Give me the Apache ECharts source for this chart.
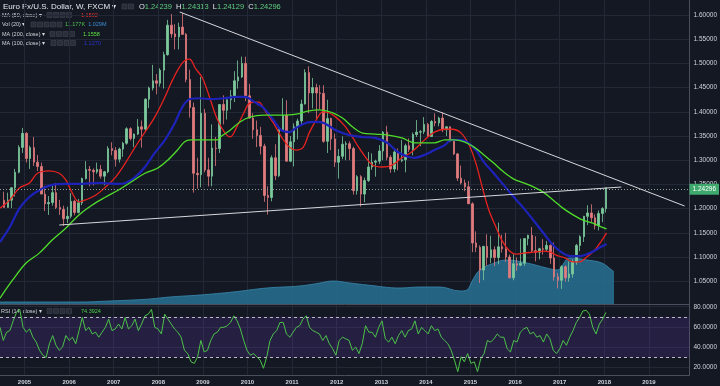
<!DOCTYPE html>
<html>
<head>
<meta charset="utf-8">
<script src="https://cdn.jsdelivr.net/npm/echarts@6.0.0/dist/echarts.min.js"></script>
<style>
html,body{margin:0;padding:0;background:#141823;overflow:hidden}
#chart{width:720px;height:386px}
</style>
</head>
<body>
<div id="chart"></div>
<script>
// ================= DATA =================
// Monthly OHLC of EUR/USD (FXCM), first candle = July 2004
const firstMonth = { year: 2004, month: 7 };
const candleOpen = [
 1.2170,1.2025,1.2175,1.2430,1.2750,1.3265,
 1.3555,1.3035,1.3260,1.2960,1.2870,1.2300,1.2100,1.2125,1.2330,1.2025,1.1985,1.1790,
 1.1840,1.2150,1.1920,1.2120,1.2620,1.2810,1.2790,1.2760,1.2810,1.2670,1.2760,1.3240,
 1.3200,1.3020,1.3230,1.3350,1.3650,1.3450,1.3540,1.3690,1.3640,1.4260,1.4490,1.4640,
 1.4590,1.4860,1.5180,1.5790,1.5610,1.5550,1.5750,1.5600,1.4670,1.4090,1.2730,1.2700,
 1.3970,1.2800,1.2670,1.3250,1.3240,1.4150,1.4030,1.4250,1.4330,1.4640,1.4720,1.5000,
 1.4330,1.3870,1.3630,1.3510,1.3290,1.2270,1.2230,1.3050,1.2680,1.3630,1.3930,1.2980,
 1.3380,1.3690,1.3810,1.4160,1.4810,1.4390,1.4500,1.4390,1.4380,1.3390,1.3860,1.3440,
 1.2960,1.3080,1.3330,1.3340,1.3240,1.2370,1.2660,1.2300,1.2580,1.2860,1.2960,1.2980,
 1.3190,1.3580,1.3060,1.2820,1.3170,1.2990,1.3010,1.3300,1.3220,1.3530,1.3580,1.3590,
 1.3740,1.3490,1.3800,1.3770,1.3870,1.3630,1.3690,1.3390,1.3130,1.2630,1.2530,1.2450,
 1.2100,1.1290,1.1200,1.0730,1.1220,1.0990,1.1150,1.0990,1.1210,1.1170,1.1000,1.0570,
 1.0860,1.0830,1.0870,1.1380,1.1450,1.1130,1.1100,1.1170,1.1160,1.1240,1.0980,1.0590,
 1.0520,1.0800,1.0570,1.0650,1.0900,1.1240,1.1420,1.1840,1.1910,1.1810,1.1650,1.1900,
 1.2000
];
const candleHigh = [
 1.2350,1.2330,1.2440,1.2820,1.3310,1.3667,
 1.3580,1.3300,1.3480,1.3110,1.2950,1.2470,1.2260,1.2480,1.2530,1.2180,1.2060,1.2040,
 1.2320,1.2180,1.2200,1.2640,1.2980,1.2880,1.2830,1.2950,1.2900,1.2780,1.3290,1.3370,
 1.3270,1.3260,1.3380,1.3680,1.3680,1.3550,1.3850,1.3820,1.4280,1.4520,1.4970,1.4780,
 1.4900,1.5240,1.5900,1.6020,1.5810,1.5840,1.6038,1.5630,1.4870,1.4190,1.3050,1.4720,
 1.4060,1.3050,1.3740,1.3480,1.4150,1.4340,1.4310,1.4450,1.4840,1.5060,1.5140,1.5140,
 1.4580,1.3970,1.3820,1.3690,1.3340,1.2460,1.3100,1.3330,1.3690,1.4280,1.4240,1.3500,
 1.3760,1.3860,1.4250,1.4880,1.4940,1.4700,1.4580,1.4550,1.4550,1.4250,1.3880,1.3550,
 1.3230,1.3490,1.3390,1.3390,1.3280,1.2690,1.2690,1.2640,1.3170,1.3140,1.3010,1.3310,
 1.3600,1.3710,1.3100,1.3240,1.3240,1.3420,1.3340,1.3450,1.3570,1.3830,1.3620,1.3890,
 1.3770,1.3830,1.3970,1.3900,1.3990,1.3700,1.3700,1.3440,1.3150,1.2890,1.2600,1.2570,
 1.2130,1.1530,1.1240,1.1220,1.1470,1.1440,1.1220,1.1710,1.1460,1.1500,1.1050,1.1060,
 1.0990,1.1380,1.1390,1.1460,1.1620,1.1430,1.1190,1.1370,1.1330,1.1260,1.1300,1.0670,
 1.0830,1.0830,1.0910,1.0950,1.1270,1.1450,1.1850,1.2070,1.2090,1.1880,1.1960,1.2030,
 1.2431
];
const candleLow = [
 1.2020,1.2020,1.2010,1.2250,1.2730,1.3150,
 1.2950,1.2820,1.2880,1.2780,1.2300,1.1950,1.1870,1.2060,1.1990,1.1870,1.1640,1.1700,
 1.1800,1.1860,1.1900,1.2070,1.2600,1.2460,1.2480,1.2720,1.2620,1.2480,1.2730,1.3100,
 1.2870,1.2950,1.3070,1.3320,1.3410,1.3270,1.3520,1.3260,1.3590,1.4080,1.4440,1.4360,
 1.4520,1.4480,1.5160,1.5530,1.5290,1.5290,1.5590,1.4610,1.3880,1.2330,1.2410,1.2440,
 1.2750,1.2460,1.2460,1.2880,1.3150,1.3740,1.3840,1.4050,1.4200,1.4480,1.4700,1.4220,
 1.3860,1.3440,1.3270,1.3120,1.2140,1.1876,1.2150,1.2590,1.2650,1.3600,1.2970,1.2960,
 1.2870,1.3430,1.3740,1.4150,1.3970,1.4070,1.3840,1.4050,1.3360,1.3150,1.3210,1.2860,
 1.2620,1.3020,1.3000,1.3000,1.2290,1.2290,1.2042,1.2130,1.2550,1.2800,1.2660,1.2920,
 1.3000,1.3000,1.2740,1.2750,1.2790,1.2960,1.2750,1.3170,1.3100,1.3480,1.3290,1.3540,
 1.3480,1.3480,1.3700,1.3700,1.3580,1.3500,1.3380,1.3110,1.2570,1.2500,1.2360,1.2100,
 1.1100,1.1100,1.0462,1.0520,1.0820,1.0870,1.0810,1.0850,1.1090,1.0900,1.0560,1.0520,
 1.0710,1.0810,1.0820,1.1240,1.1100,1.0910,1.0950,1.1050,1.1120,1.0860,1.0510,1.0350,
 1.0340,1.0490,1.0490,1.0570,1.0840,1.1120,1.1310,1.1660,1.1720,1.1570,1.1550,1.1720,
 1.1920
];
const candleClose = [
 1.2025,1.2175,1.2430,1.2750,1.3265,1.3555,
 1.3035,1.3260,1.2960,1.2870,1.2300,1.2100,1.2125,1.2330,1.2025,1.1985,1.1790,1.1840,
 1.2150,1.1920,1.2120,1.2620,1.2810,1.2790,1.2760,1.2810,1.2670,1.2760,1.3240,1.3200,
 1.3020,1.3230,1.3350,1.3650,1.3450,1.3540,1.3690,1.3640,1.4260,1.4490,1.4640,1.4590,
 1.4860,1.5180,1.5790,1.5610,1.5550,1.5750,1.5600,1.4670,1.4090,1.2730,1.2700,1.3970,
 1.2800,1.2670,1.3250,1.3240,1.4150,1.4030,1.4250,1.4330,1.4640,1.4720,1.5000,1.4330,
 1.3870,1.3630,1.3510,1.3290,1.2270,1.2230,1.3050,1.2680,1.3630,1.3930,1.2980,1.3380,
 1.3690,1.3810,1.4160,1.4810,1.4390,1.4500,1.4390,1.4380,1.3390,1.3860,1.3440,1.2960,
 1.3080,1.3330,1.3340,1.3240,1.2370,1.2660,1.2300,1.2580,1.2860,1.2960,1.2980,1.3190,
 1.3580,1.3060,1.2820,1.3170,1.2990,1.3010,1.3300,1.3220,1.3530,1.3580,1.3590,1.3740,
 1.3490,1.3800,1.3770,1.3870,1.3630,1.3690,1.3390,1.3130,1.2630,1.2530,1.2450,1.2100,
 1.1290,1.1200,1.0730,1.1220,1.0990,1.1150,1.0990,1.1210,1.1170,1.1000,1.0570,1.0860,
 1.0830,1.0870,1.1380,1.1450,1.1130,1.1100,1.1170,1.1160,1.1240,1.0980,1.0590,1.0520,
 1.0800,1.0570,1.0650,1.0900,1.1240,1.1420,1.1840,1.1910,1.1810,1.1650,1.1900,1.2000,
 1.2430
];
const lastPrice = 1.24296;

// Moving averages: [decimal year, price]
const ma50 = [[2004.45,1.201],[2004.67,1.218],[2004.89,1.243],[2005.11,1.253],[2005.29,1.273],[2005.55,1.278],[2005.78,1.273],[2005.93,1.259],[2006.06,1.234],[2006.22,1.214],[2006.37,1.218],[2006.60,1.228],[2006.82,1.245],[2007.04,1.265],[2007.26,1.294],[2007.48,1.327],[2007.70,1.358],[2007.92,1.389],[2008.15,1.431],[2008.32,1.466],[2008.54,1.501],[2008.70,1.509],[2008.83,1.490],[2008.99,1.470],[2009.17,1.424],[2009.32,1.385],[2009.48,1.358],[2009.61,1.348],[2009.76,1.369],[2009.92,1.398],[2010.05,1.418],[2010.25,1.420],[2010.38,1.404],[2010.58,1.377],[2010.76,1.348],[2010.94,1.327],[2011.09,1.321],[2011.25,1.327],[2011.38,1.356],[2011.54,1.383],[2011.69,1.400],[2011.82,1.398],[2011.98,1.389],[2012.16,1.373],[2012.35,1.348],[2012.49,1.327],[2012.64,1.307],[2012.80,1.290],[2013.02,1.286],[2013.24,1.290],[2013.46,1.305],[2013.68,1.317],[2013.97,1.342],[2014.19,1.358],[2014.42,1.364],[2014.59,1.364],[2014.79,1.356],[2014.97,1.331],[2015.12,1.294],[2015.26,1.245],[2015.41,1.197],[2015.57,1.162],[2015.70,1.135],[2015.86,1.114],[2016.01,1.106],[2016.19,1.108],[2016.41,1.110],[2016.63,1.112],[2016.79,1.110],[2016.92,1.104],[2017.12,1.098],[2017.30,1.090],[2017.45,1.090],[2017.58,1.098],[2017.78,1.114],[2017.92,1.131],[2018.05,1.150]];
const ma100 = [[2004.45,1.131],[2004.67,1.162],[2004.89,1.201],[2005.11,1.224],[2005.33,1.238],[2005.62,1.249],[2005.93,1.251],[2006.28,1.251],[2006.66,1.253],[2007.04,1.251],[2007.26,1.253],[2007.48,1.265],[2007.70,1.286],[2007.92,1.315],[2008.15,1.342],[2008.37,1.377],[2008.54,1.410],[2008.70,1.426],[2008.94,1.428],[2009.17,1.426],[2009.48,1.428],[2009.76,1.431],[2009.94,1.431],[2010.16,1.420],[2010.36,1.408],[2010.58,1.383],[2010.76,1.362],[2010.94,1.358],[2011.09,1.367],[2011.31,1.377],[2011.54,1.379],[2011.71,1.377],[2011.98,1.362],[2012.27,1.352],[2012.58,1.348],[2012.86,1.346],[2013.13,1.336],[2013.37,1.317],[2013.60,1.307],[2013.75,1.305],[2013.97,1.311],[2014.19,1.321],[2014.42,1.331],[2014.57,1.342],[2014.75,1.342],[2014.92,1.338],[2015.12,1.321],[2015.30,1.296],[2015.52,1.273],[2015.74,1.249],[2015.97,1.224],[2016.19,1.201],[2016.41,1.176],[2016.63,1.150],[2016.85,1.125],[2017.07,1.108],[2017.23,1.102],[2017.45,1.102],[2017.67,1.108],[2017.89,1.119],[2018.05,1.127]];
const ma200 = [[2004.45,1.015],[2004.73,1.052],[2005.04,1.088],[2005.33,1.108],[2005.62,1.135],[2005.93,1.160],[2006.22,1.187],[2006.51,1.207],[2006.82,1.224],[2007.10,1.238],[2007.39,1.255],[2007.70,1.273],[2007.99,1.284],[2008.21,1.300],[2008.43,1.321],[2008.59,1.338],[2008.72,1.342],[2009.03,1.342],[2009.32,1.342],[2009.39,1.348],[2009.61,1.362],[2009.83,1.379],[2010.05,1.389],[2010.36,1.393],[2010.72,1.393],[2011.09,1.395],[2011.38,1.402],[2011.60,1.404],[2011.91,1.398],[2012.13,1.387],[2012.35,1.369],[2012.58,1.356],[2012.86,1.354],[2013.15,1.352],[2013.46,1.346],[2013.75,1.336],[2014.19,1.336],[2014.42,1.342],[2014.64,1.342],[2014.86,1.338],[2015.08,1.327],[2015.30,1.311],[2015.52,1.294],[2015.74,1.276],[2015.97,1.261],[2016.19,1.253],[2016.41,1.245],[2016.63,1.234],[2016.85,1.218],[2017.07,1.201],[2017.30,1.187],[2017.52,1.176],[2017.74,1.170],[2017.89,1.164],[2018.05,1.158]];

// Volume (20) area, in thousands: [decimal year, value]
const volume = [[2004.45,64],[2005.33,64],[2006.22,64],[2006.88,96],[2007.39,128],[2007.77,160],[2008.21,224],[2008.88,288],[2009.61,384],[2010.36,512],[2011.09,576],[2011.54,672],[2011.82,736],[2012.20,672],[2012.58,608],[2013.31,512],[2013.75,544],[2014.19,544],[2014.64,416],[2014.79,448],[2014.92,768],[2015.08,1088],[2015.46,1344],[2015.68,1408],[2016.12,1312],[2016.56,1152],[2016.79,1088],[2017.07,1472],[2017.45,1408],[2017.78,1312],[2018.00,1088],[2018.05,1029]];

// RSI(14) read at a regular step along the time axis
const rsiStart = 2004.45;
const rsiStep = 0.07384;
const rsiValues = [
 59.7,46.8,54.9,56.5,66.1,74.2,77.4,59.7,54.9,58.1,
 50,45.2,37.1,32.3,30,43.6,51.6,42,37.1,40.3,
 51.6,46.8,50,43.6,56.5,69.4,56.5,59.7,53.2,54.9,
 50,54.9,59.7,67.8,56.5,58.1,62.9,58.1,69.4,58.1,
 61.3,67.8,56.5,62.9,71,72.6,77.4,59.7,58.1,53.2,
 72.6,67.8,62.9,58.1,54.9,50,37.1,33.9,25.8,24.2,
 30.7,46.8,35.5,37.1,46.8,53.2,54.9,59.7,59.7,61.3,
 64.5,71,66.1,58.1,46.8,37.1,32.3,33.9,30.7,27.4,
 19.4,30.7,46.8,53.2,56.5,64.5,64.5,53.2,50,54.9,
 59.7,61.3,67.8,71,59.7,56.5,54.9,53.2,46.8,51.6,
 43.6,38.7,32.3,46.8,50,48.4,46.8,37.1,
 40.3,33.9,43.6,61.3,54.9,54.9,50,59.7,66.1,48.4,
 45.2,50,43.6,51.6,56.5,50,56.5,58.1,66.1,53.2,
 59.7,56.5,53.2,61.3,56.5,58.1,50,46.8,43.6,37.1,
 27.4,16.1,30.7,25.8,33.9,24.2,25.8,16.1,29,33.9,
 46.8,45.2,48.4,53.2,50,50,38.7,35.5,46.8,45.2,
 54.9,58.1,59.7,53.2,54.9,50,51.6,45.2,53.2,48.4,
 37.1,33.9,38.7,46.8,42,50,56.5,64.5,69.4,75.8,
 76.5,72.6,59.7,53.2,62.9,67.8,74.39
];

// Trend lines drawn on the chart: [decimal year, price]
const trendDown = [[2008.48,1.6062],[2019.80,1.2054]];
const trendUp = [[2005.78,1.1661],[2018.38,1.2446]];

// Axes
const yearTicks = [2005,2006,2007,2008,2009,2010,2011,2012,2013,2014,2015,2016,2017,2018,2019];
const priceTicks = [1.05,1.10,1.15,1.20,1.25,1.30,1.35,1.40,1.45,1.50,1.55,1.60];
const rsiTicks = [20,40,60,80];

// ================= BUILD =================
const candles = candleOpen.map((o, i) => {
  const t = firstMonth.year + (firstMonth.month - 1 + i + 0.5) / 12;
  return [t, o, candleClose[i], candleLow[i], candleHigh[i]];
});
const rsiData = rsiValues.map((v, i) => [rsiStart + i * rsiStep, v]);

const BG = '#141823';
const GRID = '#232836';
const AXIS = '#4a4f5c';
const TXT = '#cfd2d9';
const UP = '#7cc99c';
const DOWN = '#e07b7e';
const FONT = 'Liberation Sans, Arial, sans-serif';
const xMin = 2004.45, xMax = 2019.91;

function xAx(gridIndex, showLabels) {
  return {
    type: 'value', gridIndex, min: xMin, max: xMax,
    axisLine: { show: gridIndex !== 1, lineStyle: { color: AXIS, width: 1 } },
    axisTick: { show: false, customValues: yearTicks },
    axisLabel: { show: showLabels, customValues: yearTicks, formatter: v => String(Math.round(v)),
      color: TXT, fontSize: 6, fontWeight: 'bold', fontFamily: FONT, margin: 4 },
    splitLine: { show: gridIndex !== 1, lineStyle: { color: GRID, width: 1 } }
  };
}

const legendText = (x, y, rich, text) => ({
  type: 'text', x, y, silent: true,
  style: { text, rich, fontFamily: FONT, fontSize: 5.5, fill: TXT, verticalAlign: 'middle' }
});
function boxes(x0, y, n) {
  const out = [];
  for (let i = 0; i < n; i++) {
    out.push({ type: 'rect', silent: true, shape: { x: x0 + i * 6.5, y: y - 2.5, width: 5, height: 5 },
      style: { fill: '#2a2e3a', stroke: '#454a57', lineWidth: 0.5 } });
  }
  return out;
}

const chart = echarts.init(document.getElementById('chart'), null, { renderer: 'canvas' });
chart.setOption({
  backgroundColor: BG,
  animation: false,
  grid: [
    { left: 0, right: 22, top: 0, height: 304 },
    { left: 0, right: 22, top: 204, height: 100 },
    { left: 0, right: 22, top: 304, height: 71 }
  ],
  xAxis: [xAx(0, false), Object.assign(xAx(1, false), { show: false }), xAx(2, true)],
  yAxis: [
    { type: 'value', gridIndex: 0, position: 'right', min: 1.0029, max: 1.631,
      axisLine: { show: true, lineStyle: { color: AXIS } },
      axisTick: { show: false, customValues: priceTicks },
      axisLabel: { customValues: priceTicks, formatter: v => v.toFixed(5), color: TXT, fontSize: 6.5, fontFamily: FONT, margin: 4 },
      splitLine: { show: true, lineStyle: { color: GRID } } },
    { type: 'value', gridIndex: 1, min: 0, max: 3200, show: false, splitLine: { show: false } },
    { type: 'value', gridIndex: 2, position: 'right', min: 12.8, max: 82.66,
      axisLine: { show: true, lineStyle: { color: AXIS } },
      axisTick: { show: false, customValues: rsiTicks },
      axisLabel: { customValues: rsiTicks, formatter: v => v.toFixed(4), color: TXT, fontSize: 6.5, fontFamily: FONT, margin: 4 },
      splitLine: { show: true, lineStyle: { color: GRID } } }
  ],
  series: [
    { name: 'Vol', type: 'line', xAxisIndex: 1, yAxisIndex: 1, data: volume, smooth: 0.4,
      showSymbol: false, z: 1,
      lineStyle: { color: '#3a8ab0', width: 0.8 },
      areaStyle: { color: '#276b8d', opacity: 0.9 } },
    { name: 'EURUSD', type: 'candlestick', xAxisIndex: 0, yAxisIndex: 0, data: candles, z: 3,
      barWidth: 2,
      itemStyle: { color: UP, color0: DOWN, borderColor: UP, borderColor0: DOWN, borderWidth: 0.8 },
      markLine: { silent: true, symbol: 'none', animation: false,
        lineStyle: { color: '#8fa398', type: [1, 2], width: 1 },
        label: { show: true, position: 'end', formatter: lastPrice.toFixed(5), distance: 0,
          backgroundColor: '#3fa86c', color: '#ffffff', fontSize: 6.5, fontFamily: FONT, padding: [2, 3] },
        data: [{ yAxis: lastPrice }] } },
    { name: 'MA50', type: 'line', xAxisIndex: 0, yAxisIndex: 0, data: ma50, smooth: 0.35, showSymbol: false, z: 4,
      lineStyle: { color: '#e8221f', width: 1.3 } },
    { name: 'MA100', type: 'line', xAxisIndex: 0, yAxisIndex: 0, data: ma100, smooth: 0.35, showSymbol: false, z: 4,
      lineStyle: { color: '#1d22b8', width: 2.2 } },
    { name: 'MA200', type: 'line', xAxisIndex: 0, yAxisIndex: 0, data: ma200, smooth: 0.35, showSymbol: false, z: 4,
      lineStyle: { color: '#4fdc2a', width: 1.3 } },
    { name: 'TrendDown', type: 'line', xAxisIndex: 0, yAxisIndex: 0, data: trendDown, showSymbol: false, z: 5,
      lineStyle: { color: '#d5d7dc', width: 1 } },
    { name: 'TrendUp', type: 'line', xAxisIndex: 0, yAxisIndex: 0, data: trendUp, showSymbol: false, z: 5,
      lineStyle: { color: '#d5d7dc', width: 1 } },
    { name: 'RSI', type: 'line', xAxisIndex: 2, yAxisIndex: 2, data: rsiData, showSymbol: false, z: 4,
      lineStyle: { color: '#4cc24a', width: 1 },
      markArea: { silent: true, itemStyle: { color: 'rgba(103,58,183,0.2)' }, data: [[{ yAxis: 30 }, { yAxis: 70 }]] },
      markLine: { silent: true, symbol: 'none', label: { show: false },
        lineStyle: { color: '#b8bac2', type: [3, 3], width: 1 },
        data: [{ yAxis: 30 }, { yAxis: 70 }] } }
  ],
  graphic: [
    legendText(3, 6.5, {
      t: { fontSize: 8, fill: '#e6e8ee', fontFamily: FONT }
    }, '{t|Euro Fx/U.S. Dollar, W, FXCM ▾}'),
    ...boxes(122, 6.5, 2),
    legendText(139, 6.5, {
      l: { fontSize: 7.5, fill: '#e6e8ee', fontFamily: FONT },
      v: { fontSize: 7.5, fill: '#5fcf7e', fontFamily: FONT }
    }, '{l|O}{v|1.24239}{l|  H}{v|1.24313}{l|  L}{v|1.24129}{l|  C}{v|1.24296}'),
    legendText(2, 15, {}, 'MA (50, close) ▾'),
    ...boxes(47, 15, 4),
    legendText(81, 15, { r: { fill: '#e8322f', fontSize: 5.5, fontFamily: FONT } }, '{r|1.1502}'),
    legendText(2, 24.5, {}, 'Vol (20) ▾'),
    ...boxes(31, 24.5, 5),
    legendText(65, 24.5, {
      g: { fill: '#4fc24f', fontSize: 5.5, fontFamily: FONT },
      b: { fill: '#3a8fd6', fontSize: 5.5, fontFamily: FONT } }, '{g|11.177K}  {b|1.029M}'),
    legendText(2, 34, {}, 'MA (200, close) ▾'),
    ...boxes(50, 34, 4),
    legendText(83, 34, { g: { fill: '#5ee040', fontSize: 5.5, fontFamily: FONT } }, '{g|1.1558}'),
    legendText(2, 43, {}, 'MA (100, close) ▾'),
    ...boxes(51, 43, 4),
    legendText(84, 43, { b: { fill: '#2a35d0', fontSize: 5.5, fontFamily: FONT } }, '{b|1.1270}'),
    legendText(1, 311, {}, 'RSI (14, close) ▾'),
    ...boxes(47, 311, 4),
    legendText(81, 311, { g: { fill: '#4fcf4f', fontSize: 5.5, fontFamily: FONT } }, '{g|74.3924}')
  ]
});
</script>
</body>
</html>
